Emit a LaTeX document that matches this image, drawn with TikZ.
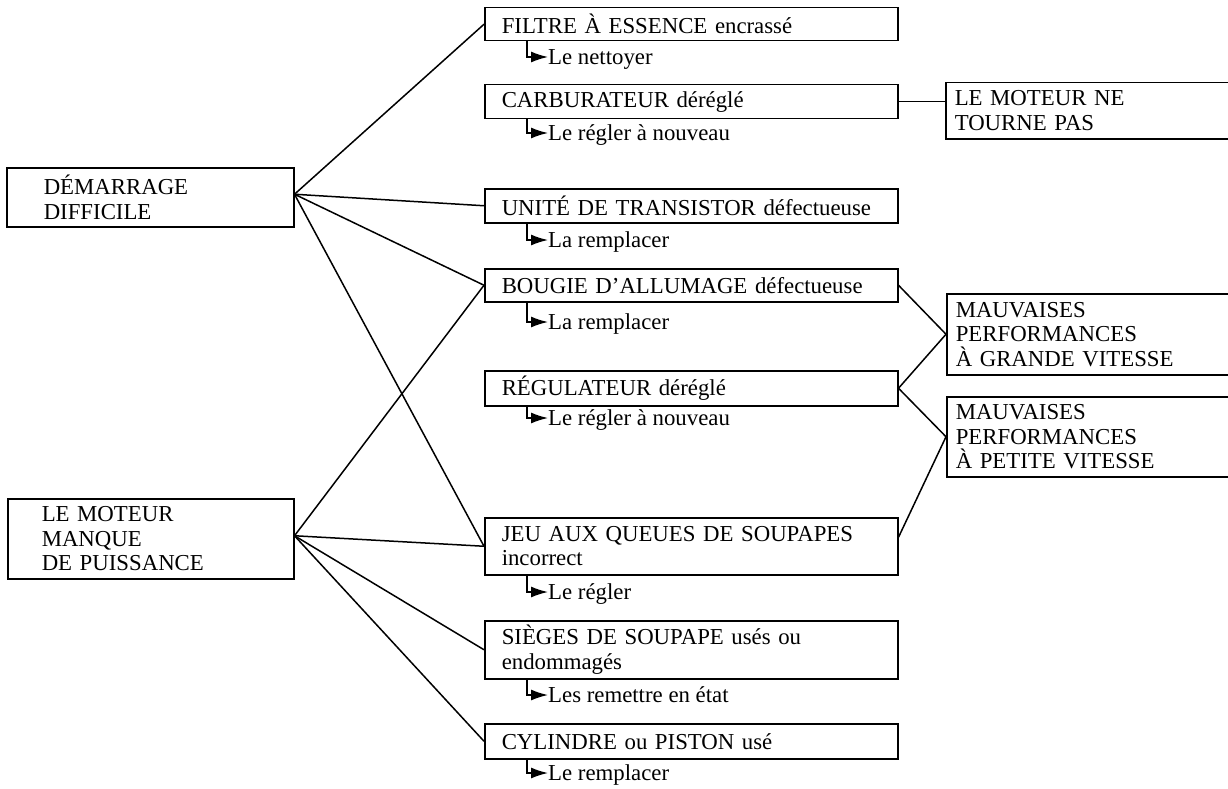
\documentclass[tikz,border=0pt]{standalone}
\usepackage{fontspec}
\setmainfont{Liberation Serif}
\usetikzlibrary{arrows.meta,calc}
\newcommand\diagfont{\fontsize{22.8pt}{24.5pt}\selectfont}
\begin{document}
\begin{tikzpicture}[x=1pt,y=-1pt,
  every node/.style={font=\diagfont},
  box/.style n args={3}{draw, line width=1.5pt, anchor=north west, inner ysep=0pt,
     inner xsep=#1, text width=#2, minimum height=#3, align=left},
  midbox/.style={box={17pt}{379pt}{#1}},
  leftbox/.style={box={37pt}{213pt}{#1}},
  rightbox/.style={box={9pt}{272pt}{#1}},
  act/.style={anchor=base west, inner sep=0pt},
  link/.style={line width=1.5pt},
  hook/.style={line width=1.5pt, -{Latex[length=17pt,width=11pt]}}]
\useasboundingbox (0,0) rectangle (1228,789);

% left boxes
\node[leftbox=59pt] (dem) at (6,167) {DÉMARRAGE\\DIFFICILE};
\node[box={34pt}{218pt}{80pt}] (lmp) at (7,498) {LE MOTEUR\\MANQUE\\DE PUISSANCE};

% middle boxes
\node[midbox=33pt] (filtre) at (484,7)   {\mbox{FILTRE À ESSENCE encrassé}};
\node[midbox=34pt] (carb)   at (484,84)  {\mbox{CARBURATEUR déréglé}};
\node[midbox=34pt] (unite)  at (484,188) {\mbox{UNITÉ DE TRANSISTOR défectueuse}};
\node[midbox=33pt] (bougie) at (484,268) {\mbox{BOUGIE D’ALLUMAGE défectueuse}};
\node[midbox=35pt] (regul)  at (484,370) {\mbox{RÉGULATEUR déréglé}};
\node[midbox=57pt] (jeu)    at (484,517) {\mbox{JEU AUX QUEUES DE SOUPAPES}\\incorrect};
\node[midbox=58pt] (sieges) at (484,620) {\mbox{SIÈGES DE SOUPAPE usés ou}\\endommagés};
\node[midbox=35pt] (cyl)    at (484,723) {\mbox{CYLINDRE ou PISTON usé}};

% right boxes
\node[rightbox=56pt] (tourne) at (945,82)  {LE MOTEUR NE\\TOURNE PAS};
\node[rightbox=81pt] (grande) at (946,293) {MAUVAISES\\PERFORMANCES\\À GRANDE VITESSE};
\node[rightbox=80pt] (petite) at (946,396) {MAUVAISES\\PERFORMANCES\\À PETITE VITESSE};

% remedies
\node[act] (r1) at (548,64.5)  {Le nettoyer};
\node[act] (r2) at (548,140.5) {Le régler à nouveau};
\node[act] (r3) at (548,247.5) {La remplacer};
\node[act] (r4) at (548,329.5) {La remplacer};
\node[act] (r5) at (548,425.5) {Le régler à nouveau};
\node[act] (r6) at (548,599.5) {Le régler};
\node[act] (r7) at (548,702.5) {Les remettre en état};
\node[act] (r8) at (548,780.5) {Le remplacer};

\foreach \b/\r in {filtre/r1,carb/r2,unite/r3,bougie/r4,regul/r5,jeu/r6,sieges/r7,cyl/r8}
  \draw[hook] ([xshift=43pt]\b.south west) |- ([yshift=7.5pt]\r.base west);

% connectors from left boxes
\coordinate (demp) at ([yshift=3pt]dem.east);
\coordinate (lmpp) at ([yshift=3pt]lmp.east);
\draw[link] (demp) -- (filtre.west);
\draw[link] (demp) -- (unite.west);
\draw[link] (demp) -- (bougie.west);
\draw[link] (demp) -- (jeu.west);
\draw[link] (lmpp) -- (bougie.west);
\draw[link] (lmpp) -- (jeu.west);
\draw[link] (lmpp) -- (sieges.west);
\draw[link] (lmpp) -- (cyl.west);

% connectors to right boxes
\draw[link] (carb.east) -- (carb.east -| tourne.west);
\draw[link] (bougie.east) -- (grande.west);
\draw[link] (regul.east) -- (grande.west);
\draw[link] (regul.east) -- (petite.west);
\draw[link] ([yshift=9pt]jeu.east) -- (petite.west);
\end{tikzpicture}
\end{document}
